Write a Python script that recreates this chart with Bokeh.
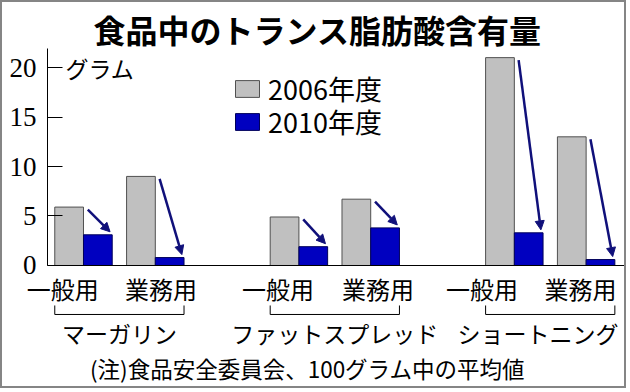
from bokeh.plotting import figure
from bokeh.models import (Range1d, FixedTicker, Label, Arrow, NormalHead,
                          Legend, LegendItem)
from bokeh.embed import file_html
from bokeh.resources import INLINE

# ---- data ----
groups = ["マーガリン", "ファットスプレッド", "ショートニング"]
uses = ["一般用", "業務用"]
years = ["2006年度", "2010年度"]
v2006 = [5.9, 9.0, 4.9, 6.7, 21.0, 13.0]
v2010 = [3.1, 0.8, 1.9, 3.8, 3.3, 0.6]
y_ticks = [0, 5, 10, 15, 20]
title_text = "食品中のトランス脂肪酸含有量"
unit_text = "グラム"
note_text = "(注)食品安全委員会、100グラム中の平均値"

JP = "Noto Sans CJK JP"
NUM = "Liberation Sans Narrow"
GRAY = "#c0c0c0"
BLUE = "#0000c0"
NAVY = "#10107a"

# slot positions: pairs of bars per group, one empty slot between groups
pos = [g * 3 + u for g in range(len(groups)) for u in range(len(uses))]
use_idx = [u for g in range(len(groups)) for u in range(len(uses))]

X0, X1 = -1.128, 7.59
AXIS_X = -0.5014
Y0, Y1 = -12.63, 26.57
Y_TOP = 21.92

p = figure(width=626, height=388,
           x_range=Range1d(X0, X1), y_range=Range1d(Y0, Y1),
           output_backend="svg", toolbar_location=None,
           min_border_left=0, min_border_top=0, min_border_right=0,
           min_border_bottom=0)
p.styles = {"border": "2px solid #858585"}
p.outline_line_color = None
p.grid.visible = False
p.background_fill_color = "white"

yax = p.yaxis[0]
yax.fixed_location = AXIS_X
yax.ticker = FixedTicker(ticks=y_ticks)
yax.bounds = (0, Y_TOP)
yax.major_tick_in = 15
yax.major_tick_out = 0
yax.minor_tick_line_color = None
yax.axis_line_color = "black"
yax.major_tick_line_color = "black"
yax.major_label_text_font = NUM
yax.major_label_text_font_size = "27px"
yax.major_label_text_color = "black"
yax.major_label_standoff = 11

xax = p.xaxis[0]
xax.fixed_location = 0
xax.ticker = FixedTicker(ticks=[])
xax.bounds = (AXIS_X, X1)
xax.major_tick_line_color = None
xax.minor_tick_line_color = None
xax.major_label_text_font_size = "0px"
xax.axis_line_color = "black"

r1 = p.vbar(x=[x - 0.2 for x in pos], width=0.4, bottom=0, top=v2006,
            fill_color=GRAY, line_color="#505050", line_width=1)
r2 = p.vbar(x=[x + 0.2 for x in pos], width=0.4, bottom=0, top=v2010,
            fill_color=BLUE, line_color="#00005a", line_width=1)

# arrows from 2006 to 2010
for x, a, b in zip(pos, v2006, v2010):
    p.add_layout(Arrow(x_start=x + 0.06, y_start=a - 0.25,
                       x_end=x + 0.37, y_end=b + 0.3,
                       line_color=NAVY, line_width=2.5,
                       end=NormalHead(size=9, fill_color=NAVY, line_color=NAVY)))

# category labels (small horizontal nudges as in the original layout)
label_off = [-0.29, 0.08, -0.29, 0.10, -0.45, -0.08]
for x, u, off in zip(pos, use_idx, label_off):
    p.add_layout(Label(x=x + off, y=-2.32, text=uses[u],
                       text_align="center", text_baseline="middle",
                       text_font=JP, text_font_size="24px", text_color="black"))

# group brackets & labels
bxs, bys = [], []
grp_off = [0.0, 0.0, -0.17]
for g, name in enumerate(groups):
    x0 = g * 3 - 0.4
    x1 = g * 3 + 1 + 0.4
    bxs.append([x0, x0, x1, x1])
    bys.append([-4.04, -4.95, -4.95, -4.04])
    p.add_layout(Label(x=g * 3 + 0.5 + grp_off[g], y=-6.87, text=name,
                       text_align="center", text_baseline="middle",
                       text_font=JP, text_font_size="23px", text_color="black"))
p.multi_line(xs=bxs, ys=bys, line_color="black", line_width=1)

# texts
p.add_layout(Label(x=3.26, y=23.9, text=title_text, text_align="center",
                   text_baseline="middle", text_font=JP, text_font_size="32px",
                   text_font_style="bold", text_color="black"))
p.add_layout(Label(x=-0.25, y=20, text=unit_text, text_align="left",
                   text_baseline="middle", text_font=JP, text_font_size="23px",
                   text_color="black"))
p.add_layout(Label(x=3.12, y=-10.4, text=note_text, text_align="center",
                   text_baseline="middle", text_font=JP, text_font_size="22.5px",
                   text_color="black"))

# legend: one entry per legend box so the row pitch matches the original
for yr, rend, loc_y in zip(years, [r1, r2], [282, 249]):
    lg = Legend(items=[LegendItem(label=yr, renderers=[rend])],
                location=(230, loc_y), glyph_width=30, glyph_height=21,
                label_standoff=6, spacing=0, padding=0, margin=0,
                border_line_alpha=0, background_fill_alpha=0,
                label_text_font=JP, label_text_font_size="27px",
                label_text_color="black")
    p.add_layout(lg)

open("out.html", "w").write(file_html(p, INLINE))
